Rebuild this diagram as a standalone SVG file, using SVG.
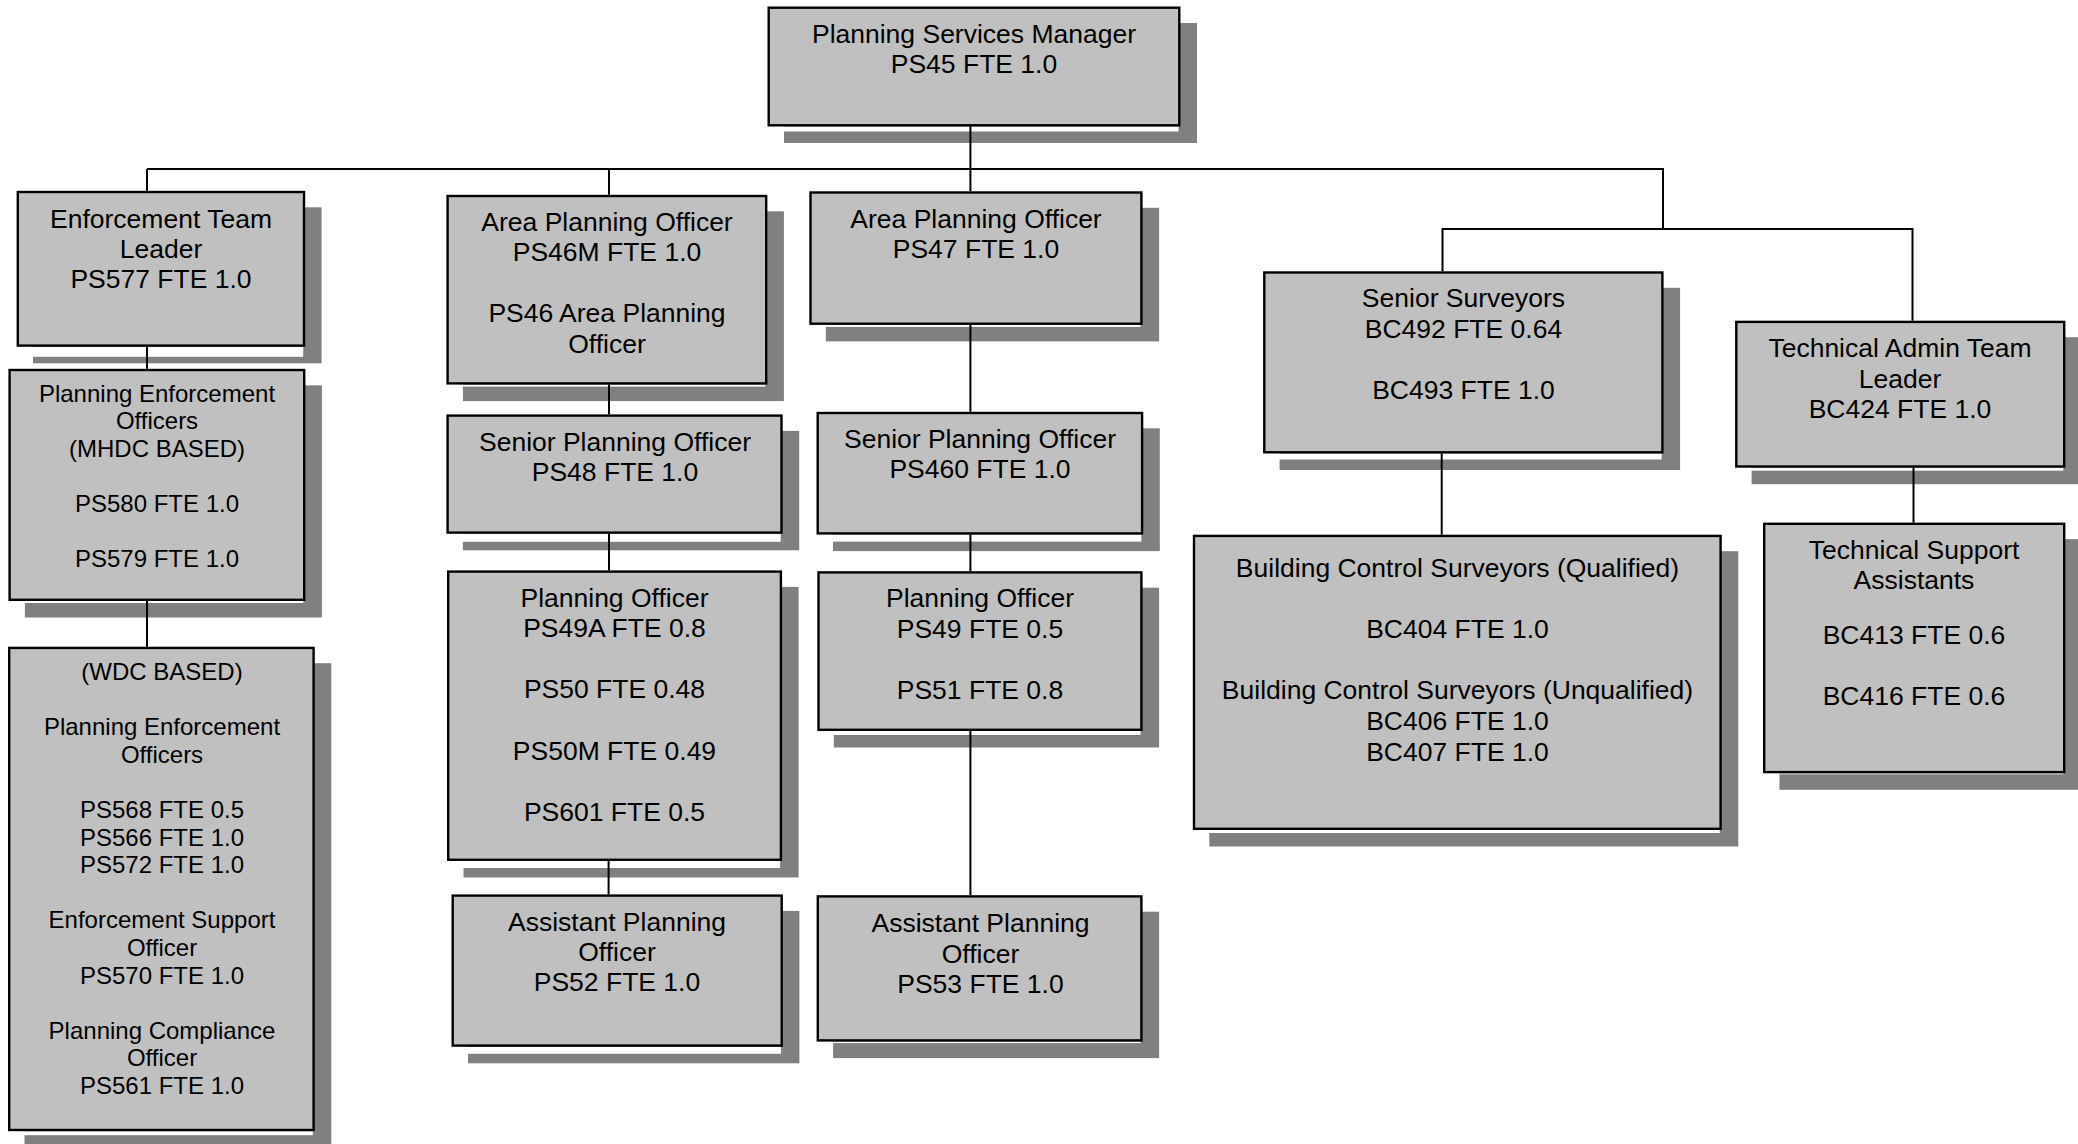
<svg xmlns="http://www.w3.org/2000/svg" width="2078" height="1144" viewBox="0 0 2078 1144">
<style>
.bg{fill:#ffffff}
.sh{fill:#808080}
.gap{fill:#ffffff}
.box{fill:#c0c0c0;stroke:#000;stroke-width:2.4}
.t{font-family:"Liberation Sans",Arial,sans-serif;font-size:26.5px;fill:#000;text-anchor:middle}
.s{font-size:24px}
.conn{fill:none;stroke:#000;stroke-width:2}
</style>
<rect class="bg" x="0" y="0" width="2078" height="1144"/>

<g id="n-manager">
<rect class="sh" x="784" y="23" width="413" height="120"/>
<rect class="gap" x="767.5" y="126.5" width="411" height="5"/>
<rect class="box" x="768.7" y="7.7" width="410.6" height="117.6"/>
<text class="t" x="974" y="43">Planning Services Manager</text>
<text class="t" x="974" y="73">PS45 FTE 1.0</text>
</g>

<g id="n-enf-leader">
<rect class="sh" x="33" y="207.3" width="288.6" height="156"/>
<rect class="gap" x="16.6" y="346.8" width="286.6" height="10"/>
<rect class="box" x="17.8" y="192" width="286.2" height="153.6"/>
<text class="t" x="161" y="227.7">Enforcement Team</text>
<text class="t" x="161" y="258">Leader</text>
<text class="t" x="161" y="288.3">PS577 FTE 1.0</text>
</g>

<g id="n-enf-mhdc">
<rect class="sh" x="24.9" y="385.3" width="297" height="232.2"/>
<rect class="gap" x="8.4" y="601" width="295" height="2"/>
<rect class="box" x="9.6" y="370" width="294.6" height="229.8"/>
<text class="t s" x="157" y="401.7">Planning Enforcement</text>
<text class="t s" x="157" y="429.3">Officers</text>
<text class="t s" x="157" y="456.9">(MHDC BASED)</text>
<text class="t s" x="157" y="512.1">PS580 FTE 1.0</text>
<text class="t s" x="157" y="567.3">PS579 FTE 1.0</text>
</g>

<g id="n-enf-wdc">
<rect class="sh" x="24.5" y="663.2" width="306.8" height="484.5"/>
<rect class="gap" x="8" y="1131.2" width="304.8" height="4"/>
<rect class="box" x="9.2" y="647.9" width="304.4" height="482.1"/>
<text class="t s" x="162" y="680">(WDC BASED)</text>
<text class="t s" x="162" y="735.2">Planning Enforcement</text>
<text class="t s" x="162" y="762.8">Officers</text>
<text class="t s" x="162" y="818">PS568 FTE 0.5</text>
<text class="t s" x="162" y="845.6">PS566 FTE 1.0</text>
<text class="t s" x="162" y="873.2">PS572 FTE 1.0</text>
<text class="t s" x="162" y="928.4">Enforcement Support</text>
<text class="t s" x="162" y="956">Officer</text>
<text class="t s" x="162" y="983.6">PS570 FTE 1.0</text>
<text class="t s" x="162" y="1038.8">Planning Compliance</text>
<text class="t s" x="162" y="1066.4">Officer</text>
<text class="t s" x="162" y="1094">PS561 FTE 1.0</text>
</g>

<g id="n-apo-46">
<rect class="sh" x="462.9" y="211.3" width="321" height="189.8"/>
<rect class="gap" x="446.4" y="384.6" width="319" height="2"/>
<rect class="box" x="447.6" y="196" width="318.6" height="187.4"/>
<text class="t" x="607" y="230.8">Area Planning Officer</text>
<text class="t" x="607" y="261.3">PS46M FTE 1.0</text>
<text class="t" x="607" y="322.3">PS46 Area Planning</text>
<text class="t" x="607" y="352.8">Officer</text>
</g>

<g id="n-apo-47">
<rect class="sh" x="825.8" y="207.8" width="333.3" height="133.6"/>
<rect class="gap" x="809.3" y="324.9" width="331.3" height="2"/>
<rect class="box" x="810.5" y="192.5" width="330.9" height="131.2"/>
<text class="t" x="976" y="227.8">Area Planning Officer</text>
<text class="t" x="976" y="258.3">PS47 FTE 1.0</text>
</g>

<g id="n-spo-48">
<rect class="sh" x="462.9" y="430.9" width="336.3" height="119.4"/>
<rect class="gap" x="446.4" y="533.8" width="334.3" height="8"/>
<rect class="box" x="447.6" y="415.6" width="333.9" height="117"/>
<text class="t" x="615" y="450.6">Senior Planning Officer</text>
<text class="t" x="615" y="481.1">PS48 FTE 1.0</text>
</g>

<g id="n-spo-460">
<rect class="sh" x="833" y="428.3" width="326.8" height="122.8"/>
<rect class="gap" x="816.5" y="534.6" width="324.8" height="7"/>
<rect class="box" x="817.7" y="413" width="324.4" height="120.4"/>
<text class="t" x="980" y="447.8">Senior Planning Officer</text>
<text class="t" x="980" y="478.3">PS460 FTE 1.0</text>
</g>

<g id="n-po-49a">
<rect class="sh" x="463.5" y="586.9" width="335.1" height="290.6"/>
<rect class="gap" x="447" y="861" width="333.1" height="7"/>
<rect class="box" x="448.2" y="571.6" width="332.7" height="288.2"/>
<text class="t" x="614.5" y="606.5">Planning Officer</text>
<text class="t" x="614.5" y="637">PS49A FTE 0.8</text>
<text class="t" x="614.5" y="698.2">PS50 FTE 0.48</text>
<text class="t" x="614.5" y="759.5">PS50M FTE 0.49</text>
<text class="t" x="614.5" y="820.8">PS601 FTE 0.5</text>
</g>

<g id="n-po-49">
<rect class="sh" x="833.8" y="587.7" width="325.3" height="159.8"/>
<rect class="gap" x="817.3" y="731" width="323.3" height="4"/>
<rect class="box" x="818.5" y="572.4" width="322.9" height="157.4"/>
<text class="t" x="980" y="607.2">Planning Officer</text>
<text class="t" x="980" y="637.7">PS49 FTE 0.5</text>
<text class="t" x="980" y="698.6">PS51 FTE 0.8</text>
</g>

<g id="n-apo-52">
<rect class="sh" x="468" y="910.9" width="331.4" height="152.4"/>
<rect class="gap" x="451.5" y="1046.8" width="329.4" height="7"/>
<rect class="box" x="452.7" y="895.6" width="329" height="150"/>
<text class="t" x="617" y="931.4">Assistant Planning</text>
<text class="t" x="617" y="961.4">Officer</text>
<text class="t" x="617" y="991.4">PS52 FTE 1.0</text>
</g>

<g id="n-apo-53">
<rect class="sh" x="833.1" y="911.7" width="326" height="146.4"/>
<rect class="gap" x="816.6" y="1041.6" width="324" height="1.5"/>
<rect class="box" x="817.8" y="896.4" width="323.6" height="144"/>
<text class="t" x="980.5" y="932">Assistant Planning</text>
<text class="t" x="980.5" y="962.5">Officer</text>
<text class="t" x="980.5" y="993">PS53 FTE 1.0</text>
</g>

<g id="n-senior-surveyors">
<rect class="sh" x="1279.6" y="287.8" width="400.5" height="182.2"/>
<rect class="gap" x="1263.1" y="453.5" width="398.5" height="6"/>
<rect class="box" x="1264.3" y="272.5" width="398.1" height="179.8"/>
<text class="t" x="1463.5" y="307.3">Senior Surveyors</text>
<text class="t" x="1463.5" y="337.8">BC492 FTE 0.64</text>
<text class="t" x="1463.5" y="398.6">BC493 FTE 1.0</text>
</g>

<g id="n-tech-admin-leader">
<rect class="sh" x="1751.6" y="337.2" width="330.3" height="147"/>
<rect class="gap" x="1735.1" y="467.7" width="328.3" height="3"/>
<rect class="box" x="1736.3" y="321.9" width="327.9" height="144.6"/>
<text class="t" x="1900" y="357">Technical Admin Team</text>
<text class="t" x="1900" y="387.6">Leader</text>
<text class="t" x="1900" y="418.2">BC424 FTE 1.0</text>
</g>

<g id="n-bcs">
<rect class="sh" x="1209.3" y="551.2" width="529" height="295.3"/>
<rect class="gap" x="1192.8" y="830" width="527" height="3"/>
<rect class="box" x="1194" y="535.9" width="526.6" height="292.9"/>
<text class="t" x="1457.5" y="577.3">Building Control Surveyors (Qualified)</text>
<text class="t" x="1457.5" y="638.3">BC404 FTE 1.0</text>
<text class="t" x="1457.5" y="699.3">Building Control Surveyors (Unqualified)</text>
<text class="t" x="1457.5" y="730">BC406 FTE 1.0</text>
<text class="t" x="1457.5" y="760.7">BC407 FTE 1.0</text>
</g>

<g id="n-tsa">
<rect class="sh" x="1779.5" y="539.1" width="302.4" height="250.7"/>
<rect class="gap" x="1763" y="773.3" width="300.4" height="1"/>
<rect class="box" x="1764.2" y="523.8" width="300" height="248.3"/>
<text class="t" x="1914" y="559.3">Technical Support</text>
<text class="t" x="1914" y="588.6">Assistants</text>
<text class="t" x="1914" y="644">BC413 FTE 0.6</text>
<text class="t" x="1914" y="705">BC416 FTE 0.6</text>
</g>

<g id="connectors">
<path class="conn" d="M970.4 126.3 V191.3"/>
<path class="conn" d="M147 169 H1663"/>
<path class="conn" d="M147 169 V190.8"/>
<path class="conn" d="M609 169 V194.8"/>
<path class="conn" d="M1663 168 V229"/>
<path class="conn" d="M1442.5 229 H1912.5"/>
<path class="conn" d="M1442.5 228 V271.3"/>
<path class="conn" d="M1912.5 228 V320.7"/>
<path class="conn" d="M147 346.8 V368.8"/>
<path class="conn" d="M147 601 V646.7"/>
<path class="conn" d="M609 384.6 V414.4"/>
<path class="conn" d="M609 533.8 V570.4"/>
<path class="conn" d="M608.6 861 V894.4"/>
<path class="conn" d="M970.4 324.9 V411.8"/>
<path class="conn" d="M970.4 534.6 V571.2"/>
<path class="conn" d="M970.4 731 V895.2"/>
<path class="conn" d="M1441.7 453.5 V534.7"/>
<path class="conn" d="M1913.5 467.7 V522.6"/>
</g>
</svg>
